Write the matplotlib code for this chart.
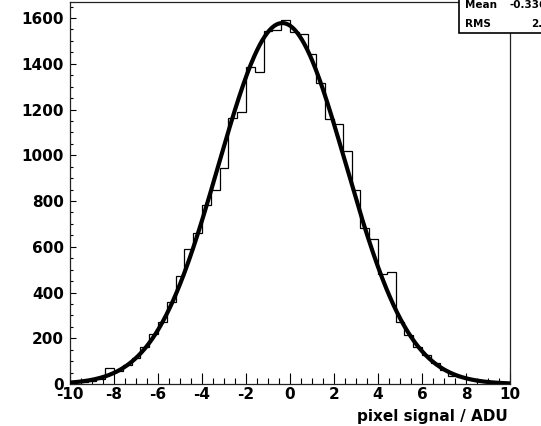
import numpy as np
import matplotlib
matplotlib.use("Agg")
import matplotlib.pyplot as plt
from matplotlib.patches import Rectangle
from matplotlib.ticker import MultipleLocator

# histogram: 50 bins of 0.4 ADU between -10 and 10
bin_edges = np.linspace(-10, 10, 51)
counts = [8, 9, 14, 22, 68, 55, 84, 115, 162, 217,
          272, 360, 473, 589, 662, 783, 846, 944, 1163, 1190,
          1384, 1364, 1543, 1548, 1590, 1540, 1528, 1444, 1316, 1160,
          1138, 1017, 849, 681, 633, 481, 489, 273, 214, 163,
          125, 92, 62, 34, 30, 20, 14, 9, 6, 4]

# gaussian fit drawn on top
fit_const = 1578
fit_mean = -0.35
fit_sigma = 2.9

stats_labels = ["Mean", "RMS"]
stats_values = ["-0.3364", "2.904"]

x_ticks = list(range(-10, 11, 2))
y_ticks = list(range(0, 1601, 200))

plt.rcParams['font.family'] = ['DejaVu Sans']
plt.rcParams['font.weight'] = 'bold'
plt.rcParams['axes.unicode_minus'] = False

W, H = 541, 426
fig = plt.figure(figsize=(W / 100, H / 100), dpi=100)
ax = fig.add_axes([70 / W, 42 / H, 440 / W, 382 / H])

ax.stairs(counts, bin_edges, color='black', linewidth=0.9, zorder=2)

xf = np.linspace(-10, 10, 500)
yf = fit_const * np.exp(-0.5 * ((xf - fit_mean) / fit_sigma) ** 2)
ax.plot(xf, yf, color='black', linewidth=3.0, zorder=3, solid_capstyle='round')

ax.set_xlim(-10, 10)
ax.set_ylim(0, 1670)
ax.set_xticks(x_ticks)
ax.set_yticks(y_ticks)
ax.xaxis.set_minor_locator(MultipleLocator(0.5))
ax.yaxis.set_minor_locator(MultipleLocator(50))
ax.tick_params(axis='x', which='major', direction='in', length=7.6, width=0.8,
               pad=2.5, labelsize=11)
ax.tick_params(axis='x', which='minor', direction='in', length=4.3, width=0.8)
ax.tick_params(axis='y', which='major', direction='in', length=4.2, width=0.8,
               pad=4.5, labelsize=11)
ax.tick_params(axis='y', which='minor', direction='in', length=2.4, width=0.8)
for lab in ax.get_xticklabels() + ax.get_yticklabels():
    lab.set_fontweight('bold')
for sp in ax.spines.values():
    sp.set_linewidth(0.9)
    sp.set_color('#222222')

fig.text(508 / W, 1 - 417 / H, "pixel signal / ADU", ha='right', va='center',
         fontsize=11, fontweight='bold')

# statistics box, partly outside the canvas
box = Rectangle((459 / W, 1 - 33 / H), 120 / W, 60 / H, transform=fig.transFigure,
                facecolor='white', edgecolor='black', linewidth=1.2,
                clip_on=False, zorder=5)
fig.patches.append(box)
row_y = [5, 24]
val_x = [510, 531]
for lab, val, ry, vx in zip(stats_labels, stats_values, row_y, val_x):
    fig.text(465 / W, 1 - ry / H, lab, ha='left', va='center', fontsize=7.5,
             fontweight='bold', zorder=6)
    fig.text(vx / W, 1 - ry / H, val, ha='left', va='center', fontsize=7.5,
             fontweight='bold', zorder=6)

fig.savefig("out.png", dpi=100)
